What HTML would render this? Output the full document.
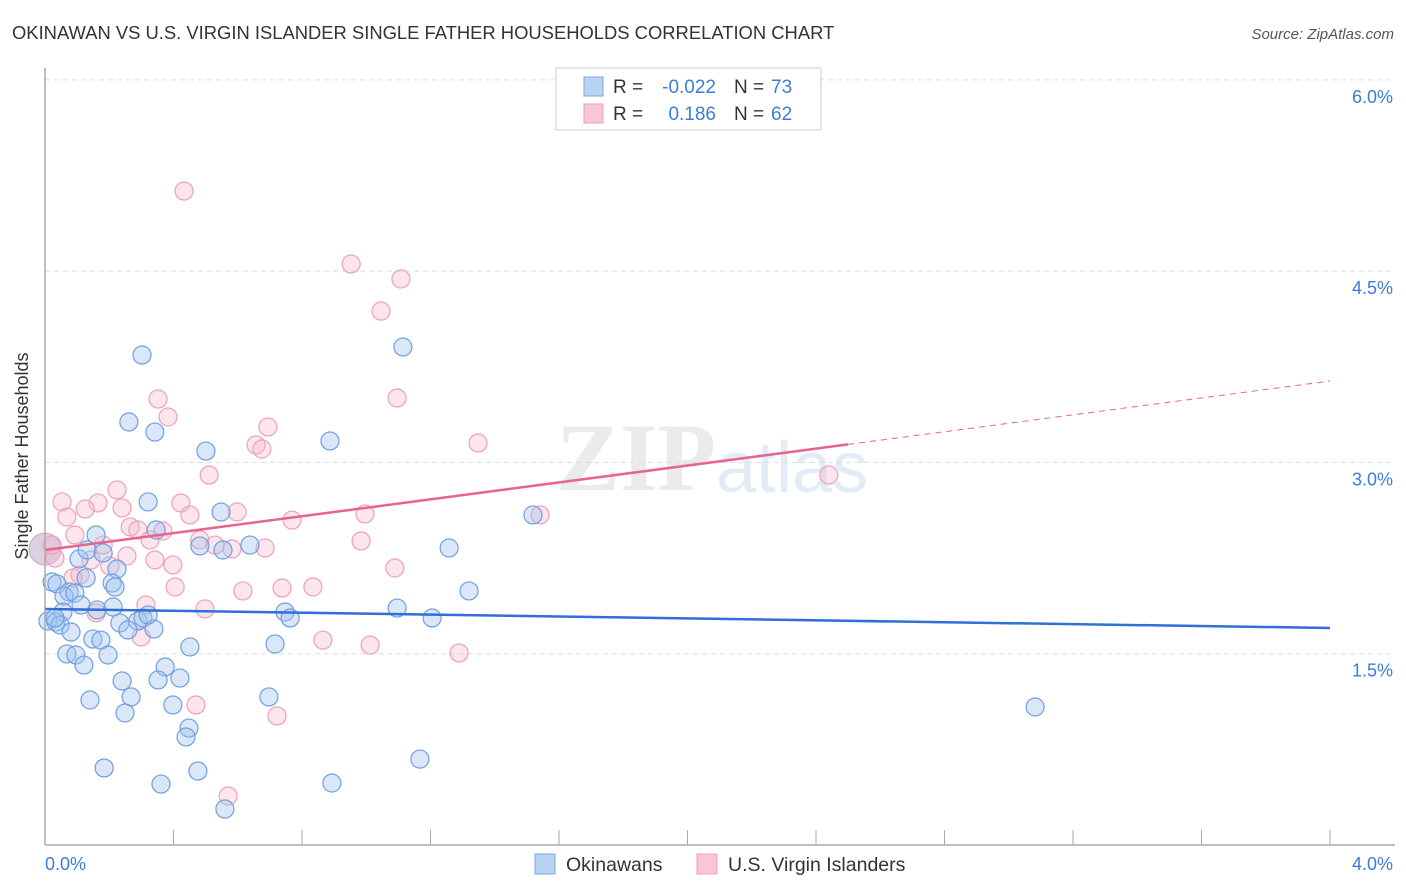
<!DOCTYPE html>
<html><head><meta charset="utf-8"><style>
body{margin:0;background:#fff;font-family:"Liberation Sans",sans-serif;}
#wrap{position:relative;width:1406px;height:892px;overflow:hidden;}
</style></head><body>
<div id="wrap">
<svg id="svg" width="1406" height="892">
<text x="12" y="39" font-size="18.4" fill="#333">OKINAWAN VS U.S. VIRGIN ISLANDER SINGLE FATHER HOUSEHOLDS CORRELATION CHART</text>
<text x="1394" y="39" font-size="15" fill="#555" font-style="italic" text-anchor="end">Source: ZipAtlas.com</text>
<text x="716" y="490" font-size="96" fill="#ebebeb" font-family="Liberation Serif,serif" text-anchor="end" font-weight="bold">ZIP</text>
<text x="716" y="492" font-size="72" fill="#e2ecf7">atlas</text>
<g id="grid"></g><g id="pts"></g><g id="lines"></g>
<line x1="45" y1="68" x2="45" y2="845" stroke="#aaa" stroke-width="1.5"/>
<line x1="45" y1="845" x2="1395" y2="845" stroke="#aaa" stroke-width="1.5"/>
<text x="28" y="456" font-size="18" fill="#333" text-anchor="middle" transform="rotate(-90 28 456)">Single Father Households</text>
<text x="45" y="870" font-size="18" fill="#3b7dd8">0.0%</text>
<text x="1393" y="870" font-size="18" fill="#3b7dd8" text-anchor="end">4.0%</text>
<g>
<rect x="556" y="68" width="265" height="62" fill="#fff" stroke="#ccc"/>
<rect x="584" y="77" width="19" height="19" fill="#b9d3f5" stroke="#7aa7e6"/>
<rect x="584" y="104" width="19" height="19" fill="#f9c6d6" stroke="#eea0b8"/>
<text x="613" y="93" font-size="19" fill="#333">R =</text><text x="716" y="93" font-size="19" fill="#3b7dd8" text-anchor="end">-0.022</text>
<text x="734" y="93" font-size="19" fill="#333">N =</text><text x="771" y="93" font-size="19" fill="#3b7dd8">73</text>
<text x="613" y="120" font-size="19" fill="#333">R =</text><text x="716" y="120" font-size="19" fill="#3b7dd8" text-anchor="end">0.186</text>
<text x="734" y="120" font-size="19" fill="#333">N =</text><text x="771" y="120" font-size="19" fill="#3b7dd8">62</text>
</g>
<g>
<rect x="535" y="854" width="20" height="20" fill="#b9d3f5" stroke="#7aa7e6"/>
<text x="566" y="871" font-size="19.5" fill="#333">Okinawans</text>
<rect x="697" y="854" width="20" height="20" fill="#f9c6d6" stroke="#eea0b8"/>
<text x="728" y="871" font-size="19.5" fill="#333">U.S. Virgin Islanders</text>
</g>
</svg></div>
<script>
const yTicks=[1.5,3.0,4.5,6.0];
const xTicks=[0,0.4,0.8,1.2,1.6,2.0,2.4,2.8,3.2,3.6,4.0];
const blueX=[.302,1.114,.261,.342,.501,.887,.321,.159,.346,.548,.638,.482,.554,1.258,1.519,.106,.131,.181,.224,.022,.037,.128,.209,.218,.075,.059,.093,.112,.056,.009,.034,.047,.162,.212,.747,.763,1.096,1.205,1.320,.289,.305,.339,.081,.233,.258,.149,.174,.068,.096,.196,.121,.451,.716,.374,.352,.420,.240,.140,.268,.697,.398,.249,.448,.439,.184,.476,.361,.893,1.167,.560,3.082,.321,.031];
const blueY=[3.842,3.905,3.317,3.238,3.089,3.168,2.690,2.431,2.470,2.611,2.352,2.345,2.313,2.329,2.588,2.243,2.313,2.290,2.164,2.062,2.047,2.094,2.054,2.023,1.984,1.952,1.976,1.882,1.827,1.756,1.749,1.725,1.843,1.866,1.827,1.780,1.858,1.780,1.992,1.756,1.780,1.694,1.670,1.741,1.686,1.615,1.607,1.498,1.490,1.490,1.411,1.553,1.576,1.396,1.294,1.309,1.286,1.137,1.161,1.161,1.098,1.035,.917,.847,.604,.580,.478,.486,.674,.282,1.082,1.804,1.780];
const pinkX=[.433,.953,1.108,1.046,.352,.383,.694,1.096,.657,.675,1.348,.511,2.440,.053,.224,.165,.125,.423,.240,.068,.451,.598,.769,.996,1.541,.265,.289,.367,.093,.327,.482,.984,.181,.529,.582,.685,.255,.342,.143,.202,.398,1.089,.109,.087,.405,.616,.738,.834,.314,.159,.498,.865,1.012,1.289,.299,.470,.722,.570,.031,.022];
const pinkY=[5.128,4.556,4.438,4.187,3.497,3.356,3.278,3.505,3.137,3.105,3.152,2.901,2.901,2.690,2.784,2.682,2.635,2.682,2.643,2.572,2.588,2.611,2.548,2.596,2.588,2.494,2.470,2.462,2.431,2.392,2.392,2.384,2.352,2.352,2.321,2.329,2.266,2.235,2.235,2.188,2.196,2.172,2.117,2.094,2.023,1.992,2.015,2.023,1.882,1.819,1.851,1.607,1.568,1.506,1.631,1.098,1.012,.384,2.250,2.352];
const blueTrend=[1.851,1.702];
const pinkTrend=[2.313,3.638];
const pinkSolidEnd=2.5;
const X=v=>45+v*321.25, Y=v=>845-v*127.53;
const NS='http://www.w3.org/2000/svg';
const mk=(t,a,p)=>{const e=document.createElementNS(NS,t);for(const k in a)e.setAttribute(k,a[k]);p.appendChild(e);return e;};
const grid=document.getElementById('grid'),pts=document.getElementById('pts'),lines=document.getElementById('lines');
yTicks.forEach(t=>{
 const l=mk('line',{x1:45,x2:1395,y1:Y(t),y2:Y(t),stroke:'#ddd','stroke-dasharray':'5,4'},grid);
 
 
 const tx=mk('text',{x:1393,y:Y(t)+23,'font-size':18,fill:'#3b7dd8','text-anchor':'end'},grid);
 tx.textContent=t.toFixed(1)+'%';
 
 
});
xTicks.forEach(t=>{
 const l=mk('line',{x1:X(t),x2:X(t),y1:830,y2:845,stroke:'#aaa'},grid);
 
 
});
const b1=mk('circle',{cx:X(0),cy:Y(2.32),r:16,fill:'rgba(190,170,200,0.55)',stroke:'#c8a8c8'},pts);


pinkX.forEach((x,i)=>{
 const c=mk('circle',{cx:X(x),cy:Y(pinkY[i]),r:9,fill:'rgba(246,180,202,0.35)',stroke:'#eea0b8','stroke-width':1.2},pts);
 
 
});
blueX.forEach((x,i)=>{
 const c=mk('circle',{cx:X(x),cy:Y(blueY[i]),r:9,fill:'rgba(160,196,240,0.4)',stroke:'#6f9fe0','stroke-width':1.2},pts);
 
 
});
const bl=mk('line',{x1:X(0),y1:Y(blueTrend[0]),x2:X(4),y2:Y(blueTrend[1]),stroke:'#2f6fd6','stroke-width':2.5},lines);


const pm=pinkTrend[0]+(pinkTrend[1]-pinkTrend[0])*pinkSolidEnd/4;
const pl=mk('line',{x1:X(0),y1:Y(pinkTrend[0]),x2:X(pinkSolidEnd),y2:Y(pm),stroke:'#e8648e','stroke-width':2.5},lines);


const pd=mk('line',{x1:X(pinkSolidEnd),y1:Y(pm),x2:X(4),y2:Y(pinkTrend[1]),stroke:'#e8648e','stroke-width':1,'stroke-dasharray':'6,5'},lines);


</script>
</body></html>
